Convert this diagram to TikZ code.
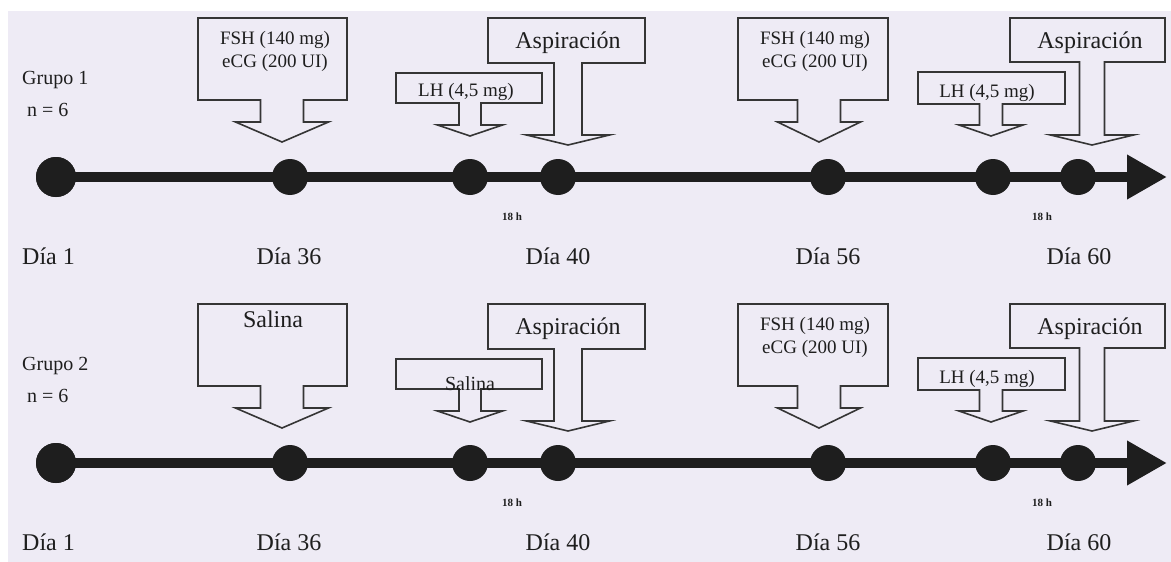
\documentclass[tikz,border=0pt]{standalone}
\usepackage{fontspec}
\setmainfont{Liberation Serif}
\usetikzlibrary{arrows.meta}
\definecolor{bgc}{HTML}{EEEBF5}
\definecolor{ink}{HTML}{1E1E1E}
\definecolor{edge}{HTML}{353535}
\newcommand{\callout}[9]{%
  \draw[calloutline] (#1,#3) -- (#2,#3) -- (#2,#4) -- ({#8+#5},#4) -- ({#8+#5},#7)
    -- ({#8+#6},#7) -- (#8,#9) -- ({#8-#6},#7) -- ({#8-#5},#7) -- ({#8-#5},#4)
    -- (#1,#4) -- cycle;}
\tikzset{
  calloutline/.style={draw=edge, line width=1.6pt, fill=bgc, line join=miter},
  dot/.style={circle, fill=ink, inner sep=0pt, minimum size=36pt},
  bigdot/.style={circle, fill=ink, inner sep=0pt, minimum size=40pt},
  timeline/.style={draw=ink, line width=10pt, -{Triangle[length=40pt,width=42pt]}},
  daylab/.style={text=ink, font=\fontsize{24}{26}\selectfont, inner sep=0pt},
  grplab/.style={text=ink, font=\fontsize{20}{24}\selectfont, inner sep=0pt, anchor=west},
  hlab/.style={text=ink, font=\bfseries\fontsize{11}{13}\selectfont, inner sep=0pt},
  boxtext/.style={text=ink, font=\fontsize{19}{23}\selectfont, inner sep=0pt, align=center},
  asptext/.style={text=ink, font=\fontsize{24}{26}\selectfont, inner sep=0pt}
}
\begin{document}
\begin{tikzpicture}[x=1pt,y=-1pt]
\useasboundingbox (0,0) rectangle (1171,562);
\fill[white] (0,0) rectangle (1171,562);
\fill[bgc] (8,11) rectangle (1171,562);

% ---------------- Group 1 ----------------
\begin{scope}
\node[grplab] (g1name) at (22,80) {Grupo 1};
\node[grplab] (g1n) at (27,110) {n = 6};

\coordinate (g1end) at (1167,177);
\node[bigdot] (g1a) at (56,177) {};
\draw[timeline] (g1a.center) -- (g1end);
\node[bigdot] (g1a2) at (56,177) {};
\node[dot] (g1b) at (290,177) {};
\node[dot] (g1c) at (470,177) {};
\node[dot] (g1d) at (558,177) {};
\node[dot] (g1e) at (828,177) {};
\node[dot] (g1f) at (993,177) {};
\node[dot] (g1g) at (1078,177) {};

\node[daylab, anchor=west] (g1l1) at (22,256) {Día 1};
\node[daylab] (g1l2) at (289,256) {Día 36};
\node[daylab] (g1l3) at (558,256) {Día 40};
\node[daylab] (g1l4) at (828,256) {Día 56};
\node[daylab] (g1l5) at (1079,256) {Día 60};
\node[hlab] (g1h1) at (512,217) {18 h};
\node[hlab] (g1h2) at (1042,217) {18 h};

\callout{198}{347}{18}{100}{21.5}{46.5}{122}{282}{142}
\node[boxtext] (g1t1) at (275,51) {FSH (140 mg)\\eCG (200 UI)};
\callout{396}{542}{73}{103}{11}{32.5}{125}{470}{136}
\node[boxtext] (g1t2) at (466,92) {LH (4,5 mg)};
\callout{488}{645}{18}{63}{14}{41.5}{135}{568}{145}
\node[asptext] (g1t3) at (568,43) {Aspiración};
\callout{738}{888}{18}{100}{21.5}{41.5}{122}{819}{142}
\node[boxtext] (g1t4) at (815,51) {FSH (140 mg)\\eCG (200 UI)};
\callout{918}{1065}{72}{104}{11.5}{32}{125}{991}{136}
\node[boxtext] (g1t5) at (987,93) {LH (4,5 mg)};
\callout{1010}{1165}{18}{62}{12.5}{41.5}{135}{1092}{145}
\node[asptext] (g1t6) at (1090,43) {Aspiración};
\end{scope}

% ---------------- Group 2 ----------------
\begin{scope}[yshift=-286pt]
\node[grplab] (g2name) at (22,80) {Grupo 2};
\node[grplab] (g2n) at (27,110) {n = 6};

\coordinate (g2end) at (1167,177);
\node[bigdot] (g2a) at (56,177) {};
\draw[timeline] (g2a.center) -- (g2end);
\node[bigdot] (g2a2) at (56,177) {};
\node[dot] (g2b) at (290,177) {};
\node[dot] (g2c) at (470,177) {};
\node[dot] (g2d) at (558,177) {};
\node[dot] (g2e) at (828,177) {};
\node[dot] (g2f) at (993,177) {};
\node[dot] (g2g) at (1078,177) {};

\node[daylab, anchor=west] (g2l1) at (22,256) {Día 1};
\node[daylab] (g2l2) at (289,256) {Día 36};
\node[daylab] (g2l3) at (558,256) {Día 40};
\node[daylab] (g2l4) at (828,256) {Día 56};
\node[daylab] (g2l5) at (1079,256) {Día 60};
\node[hlab] (g2h1) at (512,217) {18 h};
\node[hlab] (g2h2) at (1042,217) {18 h};

\callout{198}{347}{18}{100}{21.5}{46.5}{122}{282}{142}
\node[asptext] (g2t1) at (273,33) {Salina};
\callout{396}{542}{73}{103}{11}{32.5}{125}{470}{136}
\node[boxtext, font=\fontsize{20}{24}\selectfont] (g2t2) at (470,98) {Salina};
\callout{488}{645}{18}{63}{14}{41.5}{135}{568}{145}
\node[asptext] (g2t3) at (568,43) {Aspiración};
\callout{738}{888}{18}{100}{21.5}{41.5}{122}{819}{142}
\node[boxtext] (g2t4) at (815,51) {FSH (140 mg)\\eCG (200 UI)};
\callout{918}{1065}{72}{104}{11.5}{32}{125}{991}{136}
\node[boxtext] (g2t5) at (987,93) {LH (4,5 mg)};
\callout{1010}{1165}{18}{62}{12.5}{41.5}{135}{1092}{145}
\node[asptext] (g2t6) at (1090,43) {Aspiración};
\end{scope}
\end{tikzpicture}
\end{document}
